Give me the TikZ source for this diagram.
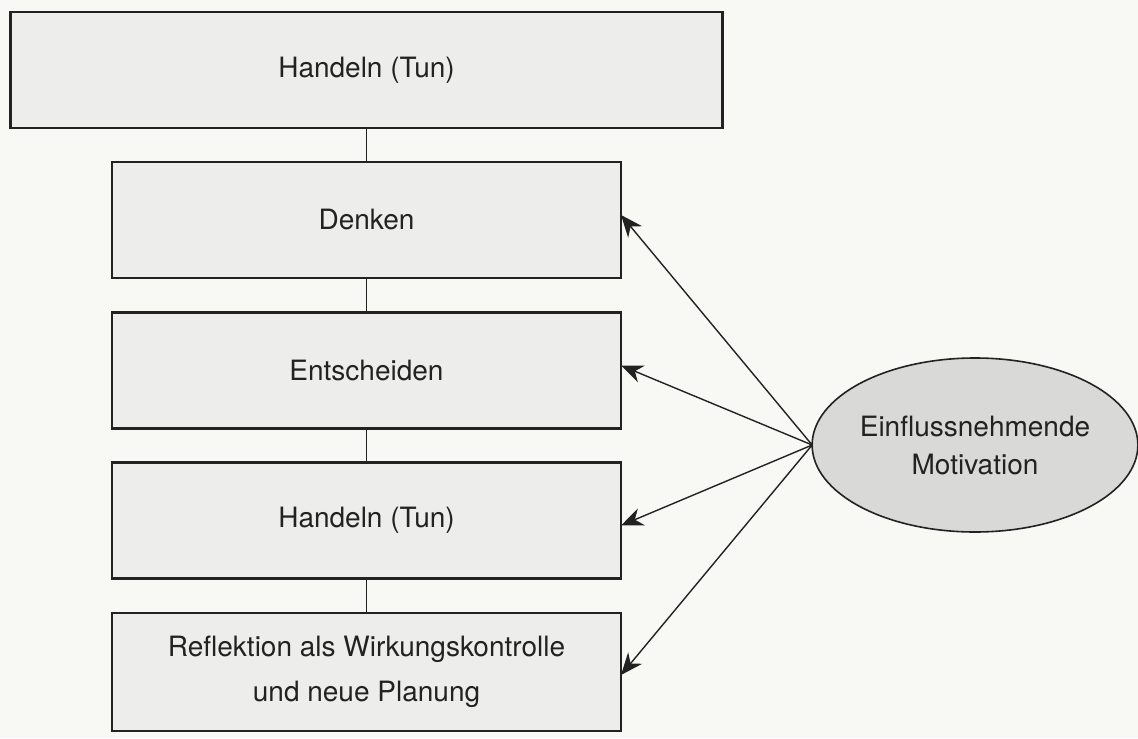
\documentclass[tikz,border=0pt]{standalone}
\usepackage{fontspec}
\setmainfont{TeX Gyre Heros}
\usetikzlibrary{arrows.meta,shapes.geometric}
\definecolor{paper}{HTML}{F8F8F5}
\definecolor{boxfill}{HTML}{EDEDEB}
\definecolor{ellfill}{HTML}{D9D9D8}
\definecolor{ink}{HTML}{222222}
\tikzset{
  stepbox/.style={draw=ink, line width=1.1pt, fill=boxfill, rectangle, inner sep=0pt, outer sep=0pt,
    minimum width=254.5pt, minimum height=58pt, align=center, font=\fontsize{14}{22.5}\selectfont, text=ink},
  topbox/.style={stepbox, minimum width=356pt},
  motiv/.style={draw=ink, line width=0.8pt, fill=ellfill, ellipse, inner sep=0pt, outer sep=0pt,
    minimum width=152pt, minimum height=87pt, align=center, font=\fontsize{14}{19}\selectfont, text=ink},
  link/.style={draw=ink, line width=0.9pt},
  infl/.style={draw=ink, line width=0.7pt, -{Stealth[length=11pt,width=9pt,inset=3.5pt]}}
}
\begin{document}
\begin{tikzpicture}[x=0.5pt,y=-0.5pt]
\useasboundingbox[fill=paper] (0,0) rectangle (1138,738);
\node[topbox] (top) at (366.5,70) {Handeln (Tun)};
\node[stepbox] (denken) at (366.5,220) {Denken};
\node[stepbox] (entsch) at (366.5,370.5) {Entscheiden};
\node[stepbox] (handeln) at (366.5,520.5) {Handeln (Tun)};
\node[stepbox, minimum height=59pt] (reflex) at (366.5,672) {Reflektion als Wirkungskontrolle\\und neue Planung};
\node[motiv] (mot) at (975,445) {Einflussnehmende\\Motivation};
\draw[link] (top.south) -- (denken.north);
\draw[link] (denken.south) -- (entsch.north);
\draw[link] (entsch.south) -- (handeln.north);
\draw[link] (handeln.south) -- (reflex.north);
\draw[infl] (mot.west) -- ([yshift=2.5pt]denken.east);
\draw[infl] (mot.west) -- ([yshift=2.5pt]entsch.east);
\draw[infl] (mot.west) -- ([yshift=-2.5pt]handeln.east);
\draw[infl] (mot.west) -- ([yshift=-1.5pt]reflex.east);
\end{tikzpicture}
\end{document}
